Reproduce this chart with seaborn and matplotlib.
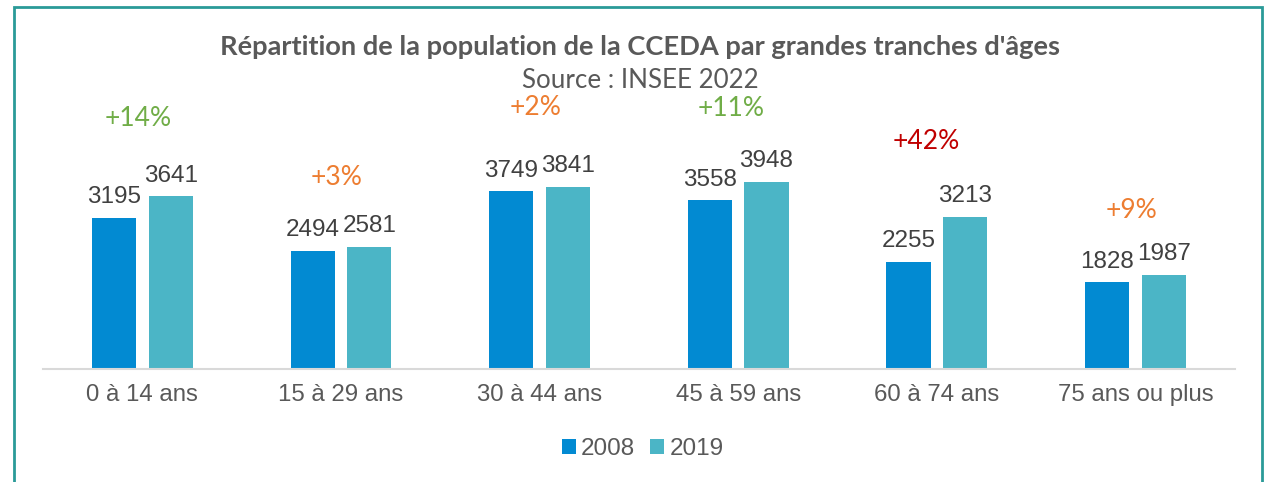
import matplotlib
matplotlib.use("Agg")
import matplotlib.pyplot as plt
import seaborn as sns
import pandas as pd
from matplotlib.patches import Rectangle, Patch

categories = ["0 à 14 ans", "15 à 29 ans", "30 à 44 ans", "45 à 59 ans", "60 à 74 ans", "75 ans ou plus"]
years = ["2008", "2019"]
values_2008 = [3195, 2494, 3749, 3558, 2255, 1828]
values_2019 = [3641, 2581, 3841, 3948, 3213, 1987]
pct_colors = ["#70AD47", "#ED7D31", "#ED7D31", "#70AD47", "#C00000", "#ED7D31"]
bar_colors = {"2008": "#028AD2", "2019": "#4BB5C6"}

title = "Répartition de la population de la CCEDA par grandes tranches d'âges"
subtitle = "Source : INSEE 2022"

# layout: vertical offset (points) of the % labels above the tallest bar
pct_offsets = [56, 50, 57, 53, 54, 46]
pct_dx = [0, 0, 0, -2, -5, 0]

df = pd.DataFrame({
    "cat": categories * 2,
    "year": [years[0]] * len(categories) + [years[1]] * len(categories),
    "val": values_2008 + values_2019,
})

sns.set_theme(style="white")
plt.rcParams["font.family"] = ["Liberation Sans", "DejaVu Sans"]

fig = plt.figure(figsize=(12.65, 4.82), dpi=100)
ax = fig.add_axes([0.034, 0.2344, 0.942, 0.641])

sns.barplot(data=df, x="cat", y="val", hue="year", order=categories, hue_order=years,
            palette=bar_colors, width=0.57, gap=0.22, ax=ax, legend=False,
            edgecolor="none", saturation=1)

for cont in ax.containers:
    ax.bar_label(cont, fmt="%d", padding=7, fontsize=17.5, color="#404040")

ax.set_ylim(0, 6519)
ax.set_xlim(-0.5, len(categories) - 0.5)
ax.set_xlabel("")
ax.set_ylabel("")
ax.set_yticks([])
for s in ["top", "right", "left"]:
    ax.spines[s].set_visible(False)
ax.spines["bottom"].set_color("#D9D9D9")
ax.spines["bottom"].set_linewidth(1.5)
ax.tick_params(axis="x", length=0, pad=11, labelsize=17.3, labelcolor="#595959")

for i, (a, b) in enumerate(zip(values_2008, values_2019)):
    pct = round((b / a - 1) * 100)
    ax.annotate(f"+{pct}%", xy=(i - 0.02, max(a, b)), xytext=(pct_dx[i], pct_offsets[i]),
                textcoords="offset points", ha="center", va="center",
                fontsize=19, color=pct_colors[i], family=["Lato", "DejaVu Sans"])

fig.text(0.506, 0.902, title, ha="center", va="center", fontsize=19.6,
         fontweight="bold", color="#595959", family=["Lato", "DejaVu Sans"])
fig.text(0.506, 0.832, subtitle, ha="center", va="center", fontsize=18.7,
         color="#595959", family=["Lato", "DejaVu Sans"])

handles = [Patch(facecolor=bar_colors[y], edgecolor="none") for y in years]
fig.legend(handles, years, loc="center", bbox_to_anchor=(0.508, 0.068), ncol=2,
           frameon=False, fontsize=17.5, handlelength=0.6, handleheight=0.6,
           handletextpad=0.2, columnspacing=0.6, labelcolor="#595959")

frame = Rectangle((13.5 / 1265, -0.1), (1262 - 13.5) / 1265, 1.1 - 6.5 / 482,
                  transform=fig.transFigure, fill=False, edgecolor="#2A9A98",
                  linewidth=2, clip_on=False)
fig.add_artist(frame)

fig.savefig("out.png", dpi=100)
